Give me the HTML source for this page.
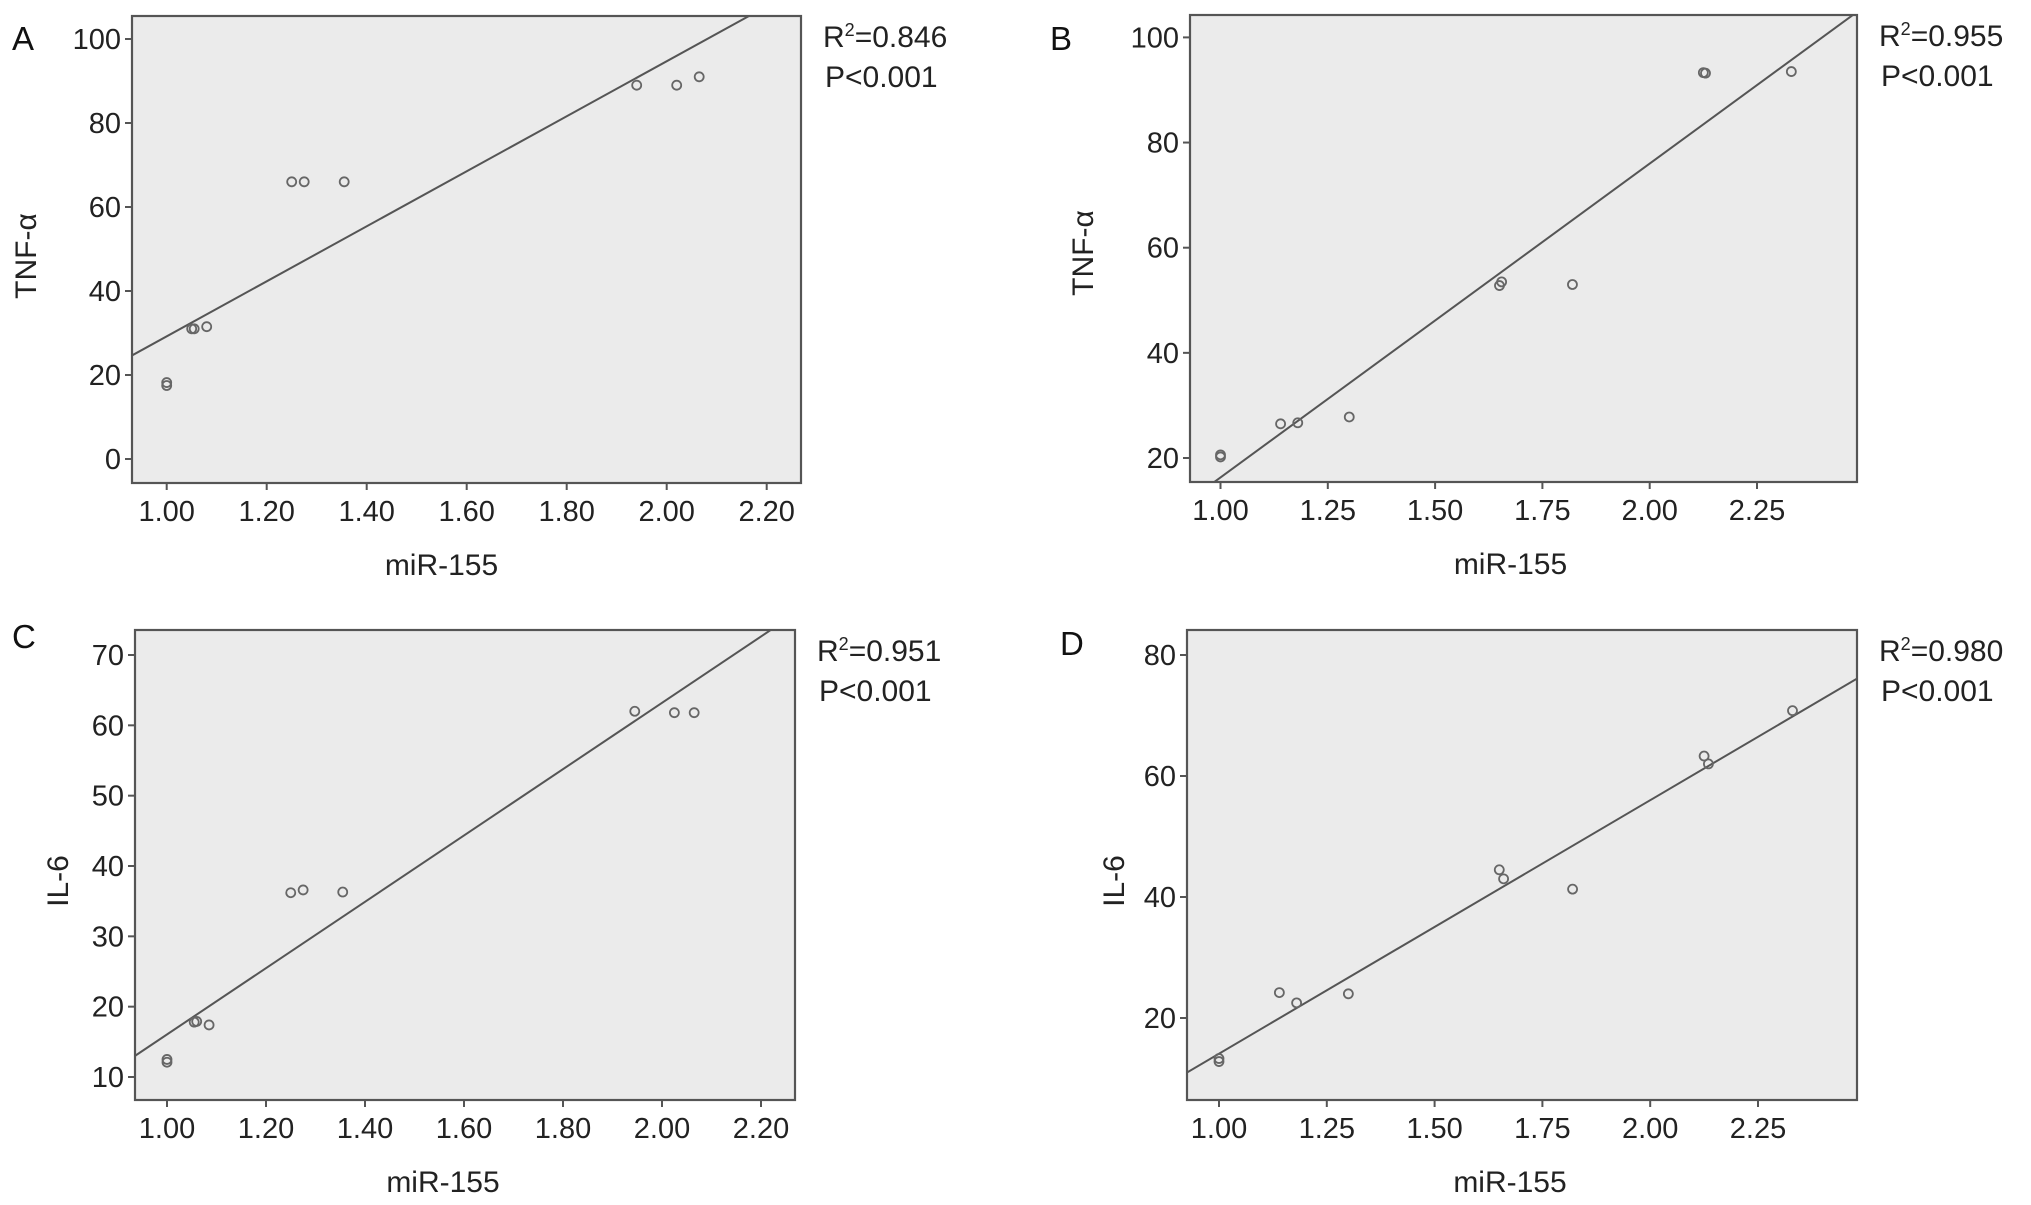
<!DOCTYPE html>
<html><head><meta charset="utf-8"><style>
html,body{margin:0;padding:0;background:#fff;}
svg{display:block;font-family:"Liberation Sans",Arial,sans-serif;}
</style></head><body>
<svg id="fig" width="2031" height="1205" viewBox="0 0 2031 1205" xmlns="http://www.w3.org/2000/svg"></svg>
<script>
// Panel A data
const aX = [1.00, 1.00, 1.05, 1.055, 1.08, 1.25, 1.275, 1.355, 1.94, 2.02, 2.065];
const aY = [17.5, 18.2, 31, 31, 31.5, 66, 66, 66, 89, 89, 91];
const aXTicks = [1.00, 1.20, 1.40, 1.60, 1.80, 2.00, 2.20];
const aXTickLabels = ["1.00","1.20","1.40","1.60","1.80","2.00","2.20"];
const aYTicks = [0, 20, 40, 60, 80, 100];
const aFit = [65.5, -36.3];
// Panel B data
const bX = [1.00, 1.00, 1.14, 1.18, 1.30, 1.65, 1.655, 1.82, 2.125, 2.13, 2.33];
const bY = [20.2, 20.6, 26.5, 26.7, 27.8, 52.8, 53.5, 53.0, 93.3, 93.2, 93.5];
const bXTicks = [1.00, 1.25, 1.50, 1.75, 2.00, 2.25];
const bXTickLabels = ["1.00","1.25","1.50","1.75","2.00","2.25"];
const bYTicks = [20, 40, 60, 80, 100];
const bFit = [59.7, -43.4];
// Panel C data
const cX = [1.00, 1.00, 1.055, 1.06, 1.085, 1.25, 1.275, 1.355, 1.945, 2.025, 2.065];
const cY = [12.1, 12.5, 17.8, 17.9, 17.4, 36.2, 36.6, 36.3, 62.0, 61.8, 61.8];
const cXTicks = [1.00, 1.20, 1.40, 1.60, 1.80, 2.00, 2.20];
const cXTickLabels = ["1.00","1.20","1.40","1.60","1.80","2.00","2.20"];
const cYTicks = [10, 20, 30, 40, 50, 60, 70];
const cFit = [47.15, -31.1];
// Panel D data
const dX = [1.00, 1.00, 1.14, 1.18, 1.30, 1.65, 1.66, 1.82, 2.125, 2.135, 2.33];
const dY = [12.8, 13.3, 24.2, 22.5, 24.0, 44.5, 43.0, 41.3, 63.3, 62.0, 70.8];
const dXTicks = [1.00, 1.25, 1.50, 1.75, 2.00, 2.25];
const dXTickLabels = ["1.00","1.25","1.50","1.75","2.00","2.25"];
const dYTicks = [20, 40, 60, 80];
const dFit = [41.9, -27.8];

const svg = document.getElementById('fig');
const NS = 'http://www.w3.org/2000/svg';
function mk(tag, attrs, parent){
  const e = document.createElementNS(NS, tag);
  for (const k in attrs) e.setAttribute(k, attrs[k]);
  (parent||svg).appendChild(e);
  return e;
}

function panel(cfg){
  const g = mk('g', {});
  
  
  const L=cfg.box[0], T=cfg.box[1], R=cfg.box[2], B=cfg.box[3];
  const sx = v => cfg.xp[0] + (v - cfg.xv[0]) * (cfg.xp[1]-cfg.xp[0])/(cfg.xv[1]-cfg.xv[0]);
  const sy = v => cfg.yp[0] + (v - cfg.yv[0]) * (cfg.yp[1]-cfg.yp[0])/(cfg.yv[1]-cfg.yv[0]);
  const ix = p => cfg.xv[0] + (p - cfg.xp[0]) * (cfg.xv[1]-cfg.xv[0])/(cfg.xp[1]-cfg.xp[0]);
  const iy = p => cfg.yv[0] + (p - cfg.yp[0]) * (cfg.yv[1]-cfg.yv[0])/(cfg.yp[1]-cfg.yp[0]);

  const bg = mk('rect', {x:L, y:T, width:R-L, height:B-T, fill:'#ebebeb', stroke:'none'}, g);
  
  

  // fit line clipped
  const cid = 'clip' + cfg.letter;
  const cp = mk('clipPath', {id:cid}, g);
  mk('rect', {x:L, y:T, width:R-L, height:B-T}, cp);
  const x0 = ix(L), x1 = ix(R);
  const fl = mk('line', {x1:sx(x0), y1:sy(cfg.fit[0]*x0+cfg.fit[1]), x2:sx(x1), y2:sy(cfg.fit[0]*x1+cfg.fit[1]),
    stroke:'#555', 'stroke-width':2, 'clip-path':'url(#'+cid+')'}, g);
  
  

  // points
  for (let i=0;i<cfg.xs.length;i++){
    const c = mk('circle', {cx:sx(cfg.xs[i]), cy:sy(cfg.ys[i]), r:4.5, fill:'none', stroke:'#666', 'stroke-width':1.8}, g);
    
    
  }

  const border = mk('rect', {x:L, y:T, width:R-L, height:B-T, fill:'none', stroke:'#555', 'stroke-width':2.2}, g);
  
  

  // x ticks
  cfg.xt.forEach((v,i)=>{
    const x = sx(v);
    mk('line', {x1:x, y1:B, x2:x, y2:B+7, stroke:'#555', 'stroke-width':2}, g);
    const t = mk('text', {x:x, y:B+38, 'text-anchor':'middle', 'font-size':29, fill:'#222'}, g);
    t.textContent = cfg.xl[i];
    
    
  });
  // y ticks
  cfg.yt.forEach(v=>{
    const y = sy(v);
    mk('line', {x1:L-7, y1:y, x2:L, y2:y, stroke:'#555', 'stroke-width':2}, g);
    const t = mk('text', {x:L-11, y:y+10, 'text-anchor':'end', 'font-size':29, fill:'#222'}, g);
    t.textContent = String(v);
    
    
  });

  const xt = mk('text', {x:(L+R)/2+cfg.xtOff, y:B+92, 'text-anchor':'middle', 'font-size':30, fill:'#222'}, g);
  xt.textContent = 'miR-155';
  
  

  const yt = mk('text', {x:0, y:0, 'text-anchor':'middle', 'font-size':30, fill:'#222',
    transform:'translate('+cfg.ytPos[0]+','+cfg.ytPos[1]+') rotate(-90)'}, g);
  yt.textContent = cfg.ytitle;
  
  

  const lt = mk('text', {x:cfg.letPos[0], y:cfg.letPos[1], 'font-size':33, fill:'#111'}, g);
  lt.textContent = cfg.letter;
  
  

  const r2 = mk('text', {x:R+22, y:T+31, 'font-size':30, fill:'#222'}, g);
  r2.innerHTML = 'R<tspan font-size="18" dy="-11">2</tspan><tspan dy="11">=' + cfg.r2 + '</tspan>';
  
  
  const pv = mk('text', {x:R+24, y:T+71, 'font-size':30, fill:'#222'}, g);
  pv.textContent = 'P<0.001';
  
  
}

panel({letter:'A', box:[132,16,801,483], xv:[1.0,2.2], xp:[166.7,766.7], yv:[0,100], yp:[459,39],
  xs:aX, ys:aY, xt:aXTicks, xl:aXTickLabels, yt:aYTicks, fit:aFit, ytitle:'TNF-\u03b1', ytPos:[36,256],
  letPos:[12,50], r2:'0.846', xtOff:-25});
panel({letter:'B', box:[1190,15,1857,482], xv:[1.0,2.25], xp:[1220.5,1757], yv:[20,100], yp:[458,37.4],
  xs:bX, ys:bY, xt:bXTicks, xl:bXTickLabels, yt:bYTicks, fit:bFit, ytitle:'TNF-\u03b1', ytPos:[1093,253],
  letPos:[1050,50], r2:'0.955', xtOff:-13});
panel({letter:'C', box:[135,630,795,1100], xv:[1.0,2.2], xp:[167,761], yv:[10,70], yp:[1077,655],
  xs:cX, ys:cY, xt:cXTicks, xl:cXTickLabels, yt:cYTicks, fit:cFit, ytitle:'IL-6', ytPos:[68,881],
  letPos:[12,648], r2:'0.951', xtOff:-22});
panel({letter:'D', box:[1187,630,1857,1100], xv:[1.0,2.25], xp:[1219,1758], yv:[20,80], yp:[1018,655],
  xs:dX, ys:dY, xt:dXTicks, xl:dXTickLabels, yt:dYTicks, fit:dFit, ytitle:'IL-6', ytPos:[1124,881],
  letPos:[1060,655], r2:'0.980', xtOff:-12});
</script>
</body></html>
